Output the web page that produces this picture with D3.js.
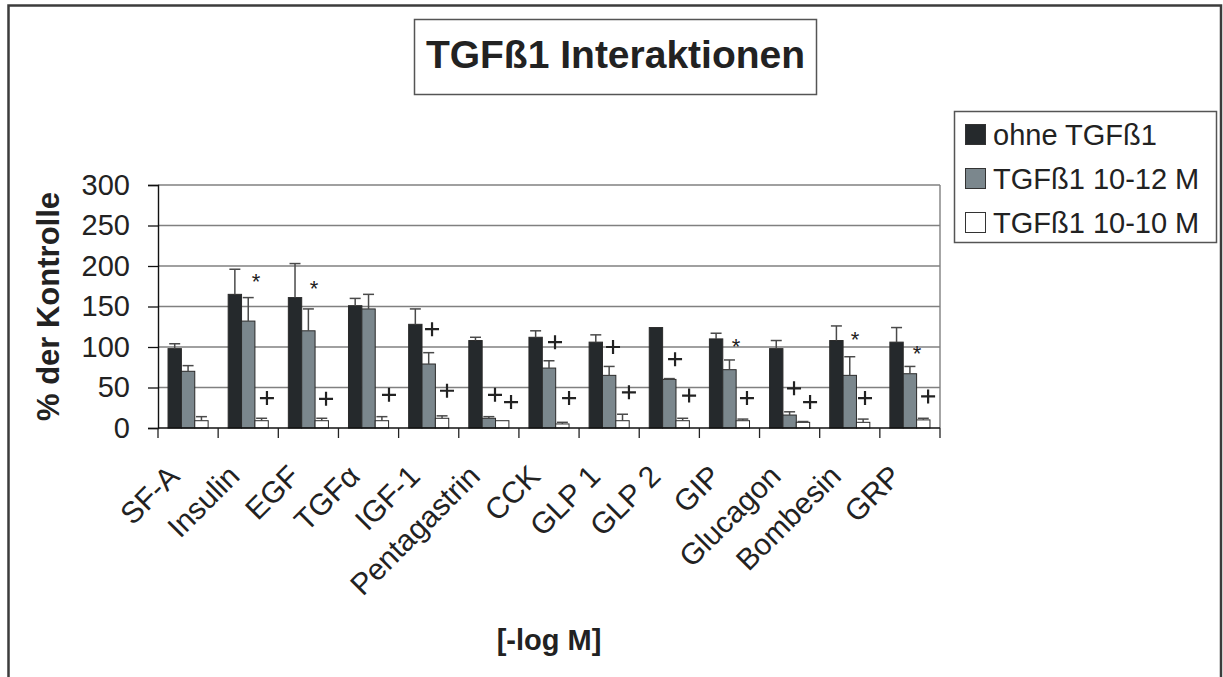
<!DOCTYPE html>
<html>
<head>
<meta charset="utf-8">
<script src="https://cdn.jsdelivr.net/npm/d3@7"></script>
<style>
  body { margin: 0; background: #fff; }
  text { font-family: Arial, "Liberation Sans", sans-serif; fill: #222; }
</style>
</head>
<body>
<svg id="chart"></svg>
<script>
// data
const categories = ["SF-A", "Insulin", "EGF", "TGFα", "IGF-1", "Pentagastrin", "CCK", "GLP 1", "GLP 2", "GIP", "Glucagon", "Bombesin", "GRP"];
const seriesNames = ["ohne TGFß1", "TGFß1 10-12 M", "TGFß1 10-10 M"];
const ohne    = [98, 165, 161, 151, 128, 108, 112, 106, 124, 110, 98, 108, 106];
const ohneErr = [6, 31, 42, 9, 19, 4, 8, 9, 0, 7, 10, 18, 18];
const t12     = [70, 132, 120, 147, 79, 12, 74, 65, 60, 72, 16, 65, 67];
const t12Err  = [7, 29, 27, 18, 14, 2, 9, 11, 1, 12, 4, 23, 9];
const t10     = [9, 9, 9, 9, 12, 9, 5, 9, 9, 9, 7, 7, 10];
const t10Err  = [5, 3, 3, 5, 3, 0, 2, 8, 3, 2, 1, 4, 2];
const yTicks  = [0, 50, 100, 150, 200, 250, 300];
// significance marks: [category, symbol, slot (bar widths from group start), value]
const marks = [
  ["Insulin", "*", 2.08, 187], ["Insulin", "+", 2.9, 37],
  ["EGF", "*", 1.92, 179], ["EGF", "+", 2.82, 36],
  ["TGFα", "+", 3.03, 41],
  ["IGF-1", "+", 1.75, 122], ["IGF-1", "+", 2.87, 46],
  ["Pentagastrin", "+", 1.96, 41], ["Pentagastrin", "+", 3.16, 32],
  ["CCK", "+", 1.95, 106], ["CCK", "+", 3.0, 37],
  ["GLP 1", "+", 1.79, 100], ["GLP 1", "+", 2.98, 44],
  ["GLP 2", "+", 1.93, 85], ["GLP 2", "+", 2.98, 40],
  ["GIP", "*", 1.99, 107], ["GIP", "+", 2.81, 37],
  ["Glucagon", "+", 1.83, 49], ["Glucagon", "+", 3.03, 32],
  ["Bombesin", "*", 1.89, 115], ["Bombesin", "+", 2.64, 37],
  ["GRP", "*", 2.03, 98], ["GRP", "+", 2.86, 39]
];

const W = 1223, H = 677;
const colors = ["#25292c", "#7b878d", "#ffffff"];
const plot = { left: 158, right: 940, top: 185, bottom: 428 };

const svg = d3.select("#chart").attr("width", W).attr("height", H);

// outer frame
svg.append("rect")
  .attr("x", 8.5).attr("y", 5.5).attr("width", 1212.5).attr("height", 700)
  .attr("fill", "none").attr("stroke", "#3c3c3c").attr("stroke-width", 2.5);

// title box
svg.append("rect")
  .attr("x", 414.5).attr("y", 19.5).attr("width", 402).attr("height", 75)
  .attr("fill", "#fff").attr("stroke", "#555").attr("stroke-width", 1.5);
svg.append("text")
  .attr("x", 615.5).attr("y", 68)
  .attr("text-anchor", "middle")
  .style("font-size", "39px").style("font-weight", "bold")
  .text("TGFß1 Interaktionen");

const rows = categories.map((c, i) => ({
  cat: c,
  vals: [[ohne[i], ohneErr[i]], [t12[i], t12Err[i]], [t10[i], t10Err[i]]]
}));

const x0 = d3.scaleBand().domain(categories).range([plot.left, plot.right]).padding(0);
const bw = x0.bandwidth();
const x1 = d3.scaleBand().domain([0, 1, 2]).range([bw / 6, bw * 5 / 6]).padding(0);
const y = d3.scaleLinear().domain([0, 300]).range([plot.bottom, plot.top]);

// gridlines
svg.append("g")
  .selectAll("line")
  .data(yTicks.filter(d => d > 0))
  .join("line")
    .attr("x1", plot.left).attr("x2", plot.right)
    .attr("y1", d => y(d)).attr("y2", d => y(d))
    .attr("stroke", "#808080").attr("stroke-width", 1.4);

// right border of plot
svg.append("line")
  .attr("x1", plot.right).attr("x2", plot.right)
  .attr("y1", plot.top).attr("y2", plot.bottom)
  .attr("stroke", "#808080").attr("stroke-width", 1.4);

// bars
const groups = svg.append("g")
  .selectAll("g")
  .data(rows)
  .join("g")
    .attr("transform", d => `translate(${x0(d.cat)},0)`);

groups.selectAll("rect")
  .data(d => d.vals.map((v, k) => ({ k, v: v[0], e: v[1] })))
  .join("rect")
    .attr("x", d => x1(d.k))
    .attr("y", d => y(d.v))
    .attr("width", x1.bandwidth())
    .attr("height", d => y(0) - y(d.v))
    .attr("fill", d => colors[d.k])
    .attr("stroke", "#2a2a2a").attr("stroke-width", 1);

// error bars (upper only)
const errs = groups.selectAll("g.err")
  .data(d => d.vals.map((v, k) => ({ k, v: v[0], e: v[1] })).filter(d => d.e > 0))
  .join("g").attr("class", "err")
    .attr("stroke", "#4a4a4a").attr("stroke-width", 1.5);
errs.append("line")
  .attr("x1", d => x1(d.k) + x1.bandwidth() / 2)
  .attr("x2", d => x1(d.k) + x1.bandwidth() / 2)
  .attr("y1", d => y(d.v)).attr("y2", d => y(d.v + d.e));
errs.append("line")
  .attr("x1", d => x1(d.k) + x1.bandwidth() / 2 - 5.5)
  .attr("x2", d => x1(d.k) + x1.bandwidth() / 2 + 5.5)
  .attr("y1", d => y(d.v + d.e)).attr("y2", d => y(d.v + d.e));

// axes
const yAxis = svg.append("g")
  .attr("transform", `translate(${plot.left},0)`)
  .call(d3.axisLeft(y).tickValues(yTicks).tickSize(10).tickPadding(18));
yAxis.select(".domain").attr("stroke", "#111").attr("stroke-width", 1.4);
yAxis.selectAll(".tick line").attr("stroke", "#111").attr("stroke-width", 1.3);
yAxis.selectAll(".tick text")
  .style("font-size", "29px").attr("fill", "#222");

const xb = d3.range(categories.length + 1).map(i => plot.left + i * bw);
svg.append("line")
  .attr("x1", plot.left).attr("x2", plot.right)
  .attr("y1", plot.bottom).attr("y2", plot.bottom)
  .attr("stroke", "#111").attr("stroke-width", 1.4);
svg.append("g")
  .selectAll("line")
  .data(xb)
  .join("line")
    .attr("x1", d => d).attr("x2", d => d)
    .attr("y1", plot.bottom).attr("y2", plot.bottom + 10)
    .attr("stroke", "#222").attr("stroke-width", 1.3);

svg.append("g")
  .selectAll("text")
  .data(categories)
  .join("text")
    .attr("transform", d => `translate(${x0(d) + bw / 2 - 7},${plot.bottom + 50}) rotate(-45)`)
    .attr("text-anchor", "end")
    .style("font-size", "30px")
    .text(d => d);

// axis titles
svg.append("text")
  .attr("transform", `translate(48,${(plot.top + plot.bottom) / 2}) rotate(-90)`)
  .attr("text-anchor", "middle").attr("dy", "0.35em")
  .style("font-size", "31px").style("font-weight", "bold")
  .text("% der Kontrolle");
svg.append("text")
  .attr("x", 549).attr("y", 650)
  .attr("text-anchor", "middle")
  .style("font-size", "29px").style("font-weight", "bold")
  .text("[-log M]");

// significance marks
const mx = d => x0(d[0]) + x1(0) + d[2] * x1.bandwidth();
const mk = svg.append("g");
mk.selectAll("path")
  .data(marks.filter(d => d[1] === "+"))
  .join("path")
    .attr("d", d => `M${mx(d) - 7},${y(d[3])}H${mx(d) + 7}M${mx(d)},${y(d[3]) - 7}V${y(d[3]) + 7}`)
    .attr("stroke", "#222").attr("stroke-width", 2.2);
mk.selectAll("text")
  .data(marks.filter(d => d[1] === "*"))
  .join("text")
    .attr("x", mx).attr("y", d => y(d[3]))
    .attr("dy", "0.57em").attr("text-anchor", "middle")
    .style("font-size", "22px")
    .text("*");

// legend
const lg = svg.append("g");
lg.append("rect")
  .attr("x", 954.5).attr("y", 111.5).attr("width", 262).attr("height", 131)
  .attr("fill", "#fff").attr("stroke", "#555").attr("stroke-width", 1.5);
const li = lg.selectAll("g.item")
  .data(seriesNames)
  .join("g").attr("class", "item")
    .attr("transform", (d, i) => `translate(965,${145 + i * 44})`);
li.append("rect")
  .attr("x", 0.5).attr("y", -20.5).attr("width", 20).attr("height", 20)
  .attr("fill", (d, i) => colors[i]).attr("stroke", "#333").attr("stroke-width", 1);
li.append("text")
  .attr("x", 28).attr("y", 0)
  .style("font-size", "29px")
  .text(d => d);
</script>
</body>
</html>
